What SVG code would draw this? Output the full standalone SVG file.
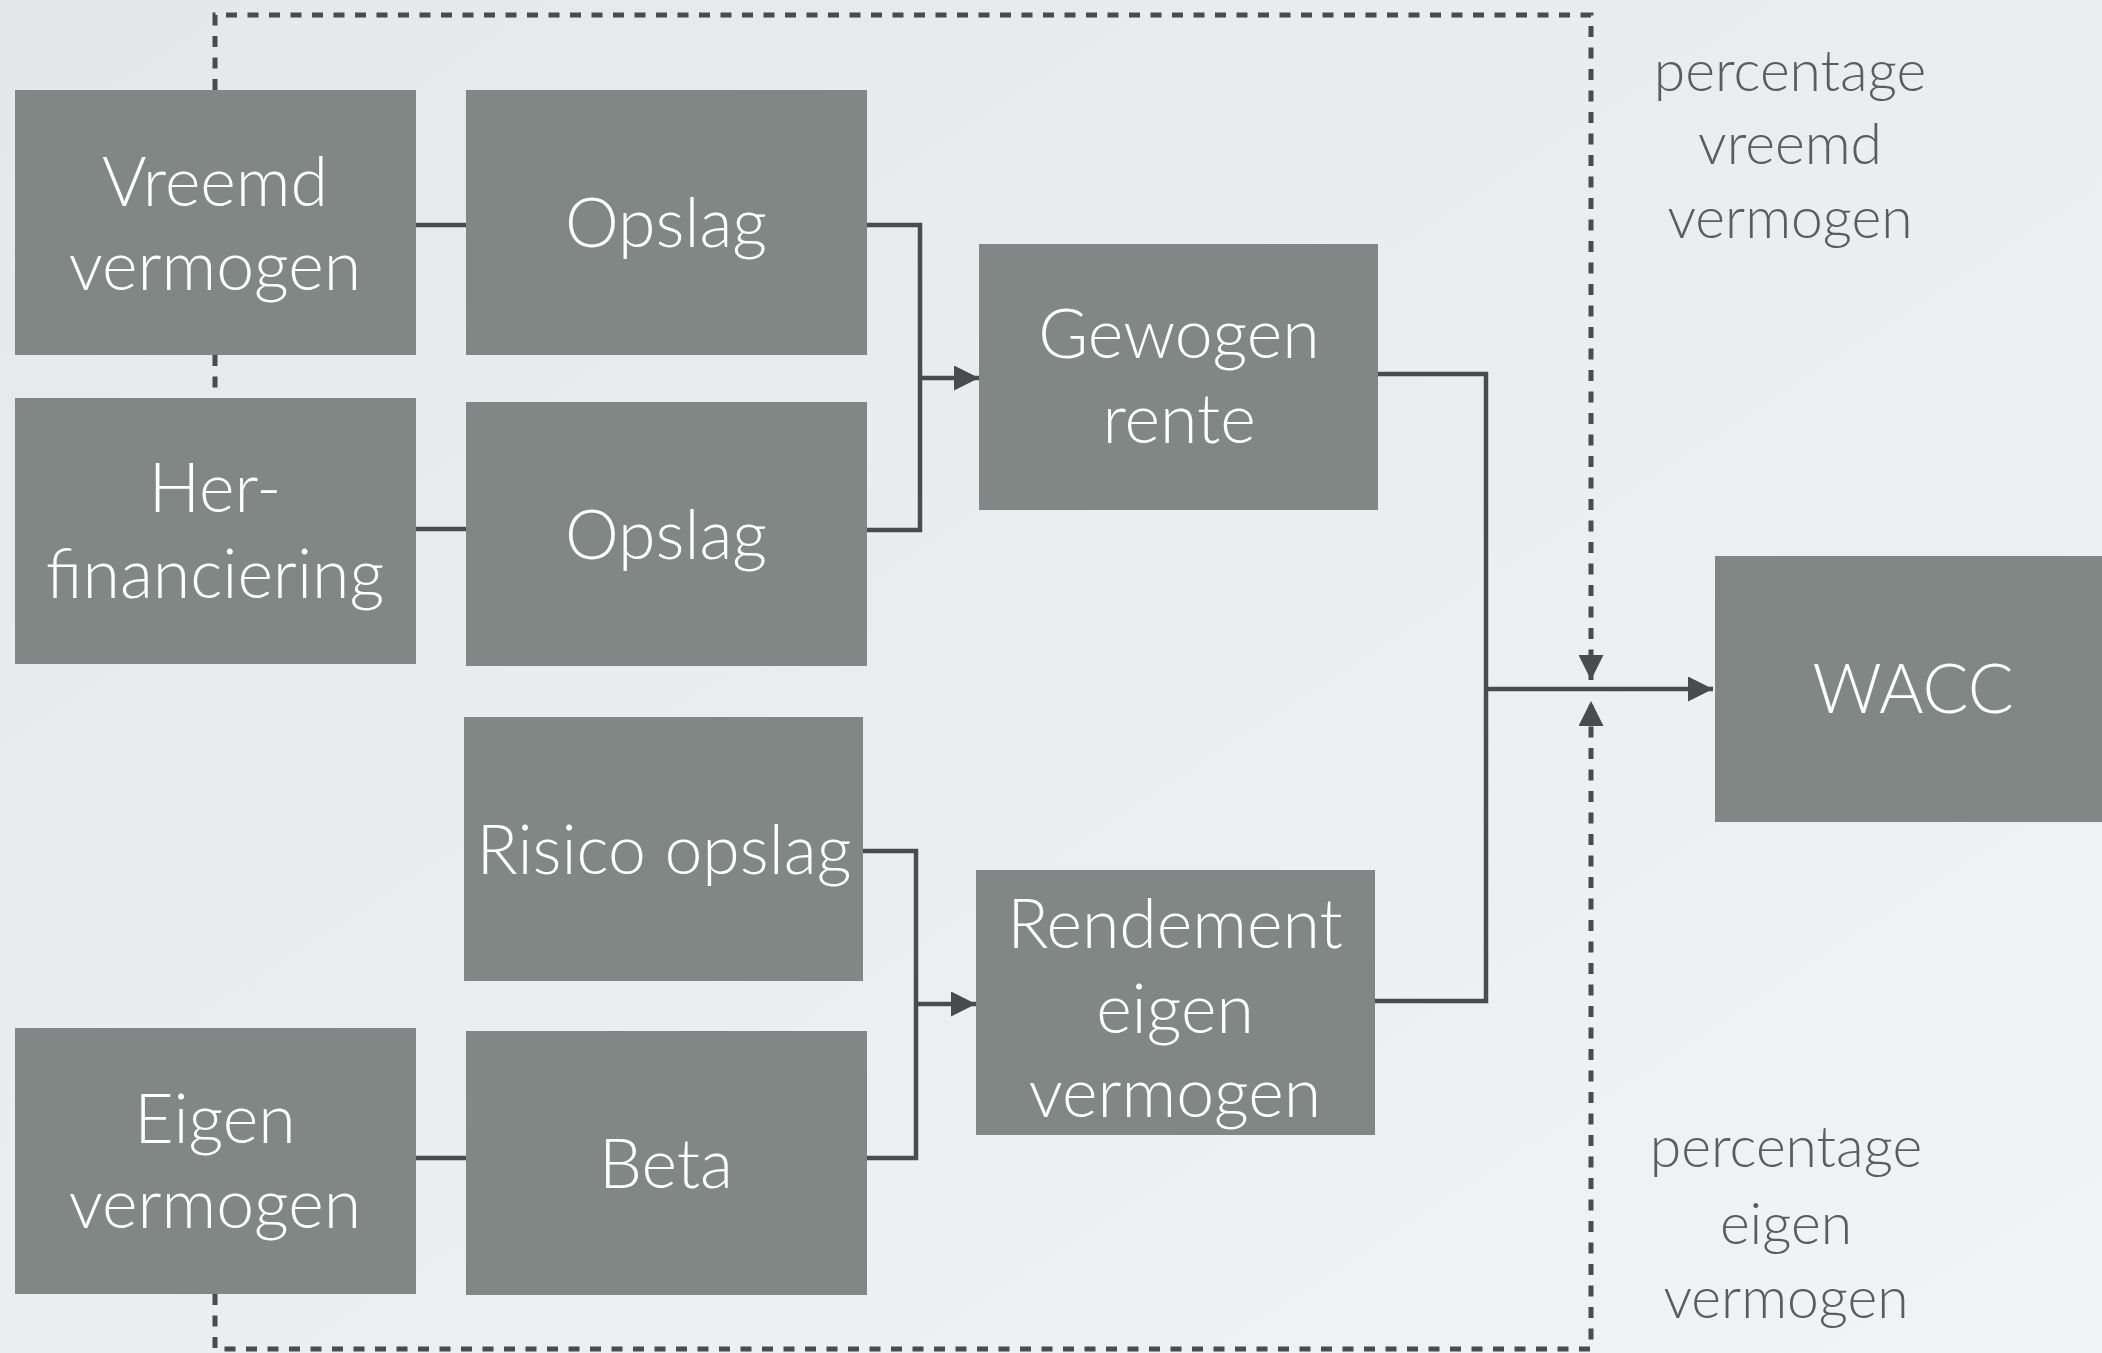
<svg xmlns="http://www.w3.org/2000/svg" width="2102" height="1353" viewBox="0 0 2102 1353">
<style>
.box{fill:#818784}
.t{font-family:Lato,"Open Sans","Liberation Sans",sans-serif;font-weight:300;font-size:68px;fill:#ffffff;text-anchor:middle}
.lbl{font-family:Lato,"Open Sans","Liberation Sans",sans-serif;font-weight:300;font-size:57px;fill:#5a5d5f;text-anchor:middle}
.c{fill:none;stroke:#4a4b4c;stroke-width:4.5}
.d{fill:none;stroke:#4a4b4c;stroke-width:5;stroke-dasharray:11 10.5}
</style>
<defs>
<linearGradient id="bg" x1="0" y1="0" x2="1" y2="1">
<stop offset="0" stop-color="#e5e7ea"/>
<stop offset="1" stop-color="#f2f3f6"/>
</linearGradient>
<marker id="ah" markerUnits="userSpaceOnUse" markerWidth="25" markerHeight="25" refX="25" refY="12.5" orient="auto" viewBox="0 0 25 25">
<path d="M0,0 L25,12.5 L0,25 z" fill="#4a4b4c"/>
</marker>
<clipPath id="clipR"><rect x="976" y="870" width="399" height="265"/></clipPath>
</defs>
<rect width="2102" height="1353" fill="url(#bg)"/>
<g id="connectors">
<path class="d" d="M215,90 V15 H1591 V680" marker-end="url(#ah)"/>
<path class="d" d="M215,355 V398"/>
<path class="d" d="M215,1294 V1349 H1591 V701" marker-end="url(#ah)"/>
<path class="c" d="M416,225 H466"/>
<path class="c" d="M416,529 H466"/>
<path class="c" d="M416,1158 H466"/>
<path class="c" d="M867,225 H920 V530 H867"/>
<path class="c" d="M920,378 H979" marker-end="url(#ah)"/>
<path class="c" d="M863,851 H916 V1158 H867"/>
<path class="c" d="M916,1004 H976" marker-end="url(#ah)"/>
<path class="c" d="M1378,374 H1486 V1001 H1375"/>
<path class="c" d="M1486,689 H1713" marker-end="url(#ah)"/>
</g>
<g id="n-vreemd"><rect class="box" x="15" y="90" width="401" height="265"/><text class="t" x="215" y="206">Vreemd</text><text class="t" x="215" y="290">vermogen</text></g>
<g id="n-opslag1"><rect class="box" x="466" y="90" width="401" height="265"/><text class="t" x="666" y="247">Opslag</text></g>
<g id="n-herfin"><rect class="box" x="15" y="398" width="401" height="266"/><text class="t" x="215" y="512">Her-</text><text class="t" x="215" y="598">financiering</text></g>
<g id="n-opslag2"><rect class="box" x="466" y="402" width="401" height="264"/><text class="t" x="666" y="559">Opslag</text></g>
<g id="n-risico"><rect class="box" x="464" y="717" width="399" height="264"/><text class="t" x="664" y="874">Risico opslag</text></g>
<g id="n-eigen"><rect class="box" x="15" y="1028" width="401" height="266"/><text class="t" x="215" y="1143">Eigen</text><text class="t" x="215" y="1228">vermogen</text></g>
<g id="n-beta"><rect class="box" x="466" y="1031" width="401" height="264"/><text class="t" x="666" y="1188">Beta</text></g>
<g id="n-gewogen"><rect class="box" x="979" y="244" width="399" height="266"/><text class="t" x="1179" y="358">Gewogen</text><text class="t" x="1179" y="443">rente</text></g>
<g id="n-rendement"><rect class="box" x="976" y="870" width="399" height="265"/><g clip-path="url(#clipR)"><text class="t" x="1175" y="948">Rendement</text><text class="t" x="1175" y="1033">eigen</text><text class="t" x="1175" y="1117">vermogen</text></g></g>
<g id="n-wacc"><rect class="box" x="1715" y="556" width="387" height="266"/><text class="t" x="1913" y="713">WACC</text></g>
<g id="label-vreemd"><text class="lbl" x="1790" y="91">percentage</text><text class="lbl" x="1790" y="164">vreemd</text><text class="lbl" x="1790" y="238">vermogen</text></g>
<g id="label-eigen"><text class="lbl" x="1786" y="1167">percentage</text><text class="lbl" x="1786" y="1244">eigen</text><text class="lbl" x="1786" y="1318">vermogen</text></g>
</svg>
